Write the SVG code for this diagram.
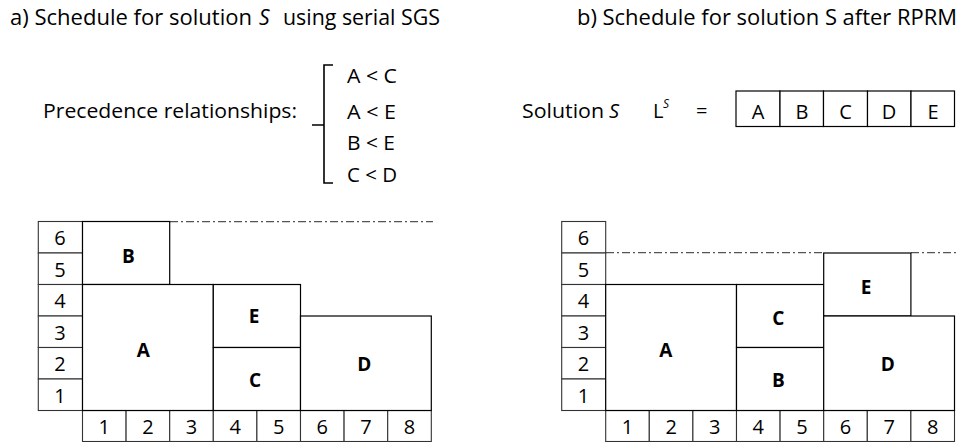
<svg xmlns="http://www.w3.org/2000/svg" width="961" height="442" viewBox="0 0 961 442">
<style>
.t{font-family:"Open Sans","Noto Sans","Liberation Sans",sans-serif;fill:#000}
.title{font-size:21px}
.txt{font-size:20px}
.num{font-size:20px;text-anchor:middle}
.lbl{font-size:19px;font-weight:bold;text-anchor:middle}
.box{fill:#fff;stroke:#000;stroke-width:1.2}
.ax{fill:#fff;stroke:#333;stroke-width:1.1}
.dash{stroke:#555;stroke-width:1.3;stroke-dasharray:8,3,2,3;fill:none}
</style>
<rect width="961" height="442" fill="#fff"/>

<!-- Titles -->
<text class="t title" x="10" y="25" textLength="242" lengthAdjust="spacingAndGlyphs">a) Schedule for solution</text>
<text class="t title" x="259" y="25" font-style="italic">S</text>
<text class="t title" x="283" y="25" textLength="157" lengthAdjust="spacingAndGlyphs">using serial SGS</text>
<text class="t title" x="577" y="25" textLength="380" lengthAdjust="spacingAndGlyphs">b) Schedule for solution S after RPRM</text>

<!-- Precedence -->
<g id="precedence">
<text class="t txt" x="43" y="118" textLength="254" lengthAdjust="spacingAndGlyphs">Precedence relationships:</text>
<path d="M333,65 H324 V125 H312 M324,125 V183 H333" fill="none" stroke="#000" stroke-width="1.6"/>
<text class="t txt" x="347" y="83" textLength="50" lengthAdjust="spacingAndGlyphs">A &lt; C</text>
<text class="t txt" x="347" y="119" textLength="49" lengthAdjust="spacingAndGlyphs">A &lt; E</text>
<text class="t txt" x="347" y="150" textLength="48" lengthAdjust="spacingAndGlyphs">B &lt; E</text>
<text class="t txt" x="347" y="182" textLength="50" lengthAdjust="spacingAndGlyphs">C &lt; D</text>
</g>

<!-- Solution list -->
<g id="solution">
<text class="t txt" x="522" y="118" textLength="82" lengthAdjust="spacingAndGlyphs">Solution</text>
<text class="t txt" x="609" y="118" font-style="italic">S</text>
<text class="t txt" x="653" y="118">L</text>
<text class="t" x="663" y="108" font-size="12" font-style="italic">S</text>
<text class="t txt" x="696" y="118">=</text>
<rect class="box" x="736" y="91" width="44" height="35.5"/>
<rect class="box" x="780" y="91" width="43.5" height="35.5"/>
<rect class="box" x="823.5" y="91" width="44" height="35.5"/>
<rect class="box" x="867.5" y="91" width="43.5" height="35.5"/>
<rect class="box" x="911" y="91" width="43.5" height="35.5"/>
<text class="t txt" x="758" y="119" text-anchor="middle">A</text>
<text class="t txt" x="802" y="119" text-anchor="middle">B</text>
<text class="t txt" x="845.5" y="119" text-anchor="middle">C</text>
<text class="t txt" x="889" y="119" text-anchor="middle">D</text>
<text class="t txt" x="933" y="119" text-anchor="middle">E</text>
</g>

<!-- Connectors (dash-dot capacity lines) -->
<g id="connectors">
<line class="dash" x1="170" y1="221.7" x2="433" y2="221.7"/>
<line class="dash" x1="606" y1="252.7" x2="823.7" y2="252.7"/>
<line class="dash" x1="911" y1="252.7" x2="958" y2="252.7"/>
</g>

<!-- Left axes -->
<g id="left-axes">
<rect class="ax" x="38.3" y="221.5" width="44.2" height="31.5"/>
<rect class="ax" x="38.3" y="253" width="44.2" height="31.5"/>
<rect class="ax" x="38.3" y="284.5" width="44.2" height="31.5"/>
<rect class="ax" x="38.3" y="316" width="44.2" height="31.5"/>
<rect class="ax" x="38.3" y="347.5" width="44.2" height="31.5"/>
<rect class="ax" x="38.3" y="379" width="44.2" height="31.5"/>
<text class="t num" x="60" y="245">6</text>
<text class="t num" x="60" y="276.5">5</text>
<text class="t num" x="60" y="308">4</text>
<text class="t num" x="60" y="339.5">3</text>
<text class="t num" x="60" y="371">2</text>
<text class="t num" x="60" y="402.5">1</text>
<rect class="ax" x="82.5" y="410.5" width="43.6" height="31"/>
<rect class="ax" x="126.1" y="410.5" width="43.6" height="31"/>
<rect class="ax" x="169.7" y="410.5" width="43.6" height="31"/>
<rect class="ax" x="213.3" y="410.5" width="43.6" height="31"/>
<rect class="ax" x="256.9" y="410.5" width="43.6" height="31"/>
<rect class="ax" x="300.5" y="410.5" width="43.6" height="31"/>
<rect class="ax" x="344.1" y="410.5" width="43.6" height="31"/>
<rect class="ax" x="387.7" y="410.5" width="43.6" height="31"/>
<text class="t num" x="104.3" y="434">1</text>
<text class="t num" x="147.9" y="434">2</text>
<text class="t num" x="191.5" y="434">3</text>
<text class="t num" x="235.1" y="434">4</text>
<text class="t num" x="278.7" y="434">5</text>
<text class="t num" x="322.3" y="434">6</text>
<text class="t num" x="365.9" y="434">7</text>
<text class="t num" x="409.5" y="434">8</text>
</g>

<!-- Left blocks -->
<g id="left-B"><rect class="box" x="82.5" y="221.5" width="87.2" height="63"/><text class="t lbl" x="128.3" y="263">B</text></g>
<g id="left-A"><rect class="box" x="82.5" y="284.5" width="130.8" height="126"/><text class="t lbl" x="143.3" y="356.5">A</text></g>
<g id="left-E"><rect class="box" x="213.3" y="284.5" width="87.2" height="63"/><text class="t lbl" x="254" y="323">E</text></g>
<g id="left-C"><rect class="box" x="213.3" y="347.5" width="87.2" height="63"/><text class="t lbl" x="255" y="387">C</text></g>
<g id="left-D"><rect class="box" x="300.5" y="316" width="130.8" height="94.5"/><text class="t lbl" x="364.3" y="370.5">D</text></g>

<!-- Right axes -->
<g id="right-axes">
<rect class="ax" x="561.7" y="221.5" width="44" height="31.5"/>
<rect class="ax" x="561.7" y="253" width="44" height="31.5"/>
<rect class="ax" x="561.7" y="284.5" width="44" height="31.5"/>
<rect class="ax" x="561.7" y="316" width="44" height="31.5"/>
<rect class="ax" x="561.7" y="347.5" width="44" height="31.5"/>
<rect class="ax" x="561.7" y="379" width="44" height="31.5"/>
<text class="t num" x="583.5" y="245">6</text>
<text class="t num" x="583.5" y="276.5">5</text>
<text class="t num" x="583.5" y="308">4</text>
<text class="t num" x="583.5" y="339.5">3</text>
<text class="t num" x="583.5" y="371">2</text>
<text class="t num" x="583.5" y="402.5">1</text>
<rect class="ax" x="605.7" y="410.5" width="43.6" height="31"/>
<rect class="ax" x="649.3" y="410.5" width="43.6" height="31"/>
<rect class="ax" x="692.9" y="410.5" width="43.6" height="31"/>
<rect class="ax" x="736.5" y="410.5" width="43.6" height="31"/>
<rect class="ax" x="780.1" y="410.5" width="43.6" height="31"/>
<rect class="ax" x="823.7" y="410.5" width="43.6" height="31"/>
<rect class="ax" x="867.3" y="410.5" width="43.6" height="31"/>
<rect class="ax" x="910.9" y="410.5" width="43.6" height="31"/>
<text class="t num" x="627.5" y="434">1</text>
<text class="t num" x="671.1" y="434">2</text>
<text class="t num" x="714.7" y="434">3</text>
<text class="t num" x="758.3" y="434">4</text>
<text class="t num" x="801.9" y="434">5</text>
<text class="t num" x="845.5" y="434">6</text>
<text class="t num" x="889.1" y="434">7</text>
<text class="t num" x="932.7" y="434">8</text>
</g>

<!-- Right blocks -->
<g id="right-A"><rect class="box" x="605.7" y="284.5" width="130.8" height="126"/><text class="t lbl" x="665.7" y="356.5">A</text></g>
<g id="right-C"><rect class="box" x="736.5" y="284.5" width="87.2" height="63"/><text class="t lbl" x="778.3" y="325">C</text></g>
<g id="right-B"><rect class="box" x="736.5" y="347.5" width="87.2" height="63"/><text class="t lbl" x="778.3" y="387">B</text></g>
<g id="right-E"><rect class="box" x="823.7" y="253" width="87.2" height="63"/><text class="t lbl" x="866" y="294">E</text></g>
<g id="right-D"><rect class="box" x="823.7" y="316" width="130.8" height="94.5"/><text class="t lbl" x="887.7" y="370.5">D</text></g>
</svg>
